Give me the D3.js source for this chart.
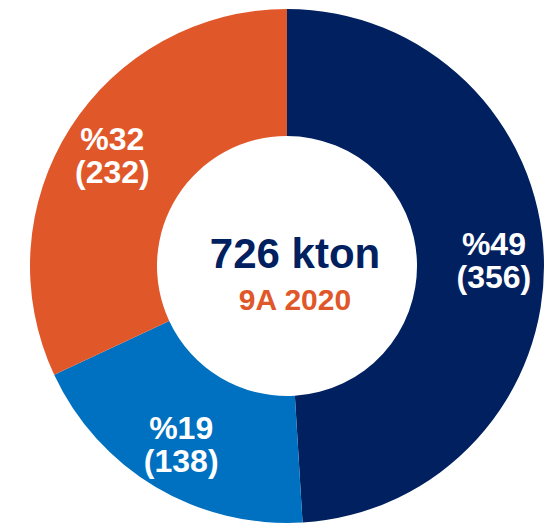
<!DOCTYPE html>
<html>
<head>
<meta charset="utf-8">
<script src="https://cdn.jsdelivr.net/npm/d3@7"></script>
<style>
  body { margin: 0; background: #fff; }
  svg text { font-family: 'Liberation Sans', Arial, sans-serif; font-weight: bold; }
</style>
</head>
<body>
<div id="chart"></div>
<script>
// Data
const categories = ['A', 'B', 'C'];
const values = [356, 138, 232];
const colors = ['#002060', '#0070C0', '#E0572A'];
const centerUnit = 'kton';
const centerSubtitle = '9A 2020';

// Layout
const width = 554;
const height = 529;
const cx = 287;
const cy = 266;
const outerR = 257;
const innerR = 130;
const labelR = 207;

const svg = d3
  .select('#chart')
  .append('svg')
  .attr('width', width)
  .attr('height', height);

const g = svg.append('g').attr('transform', `translate(${cx},${cy})`);

const total = d3.sum(values);
const data = categories.map((c, i) => ({ cat: c, value: values[i], color: colors[i] }));

const pie = d3.pie().sort(null).value(d => d.value);
const arc = d3.arc().innerRadius(innerR).outerRadius(outerR);
const labelArc = d3.arc().innerRadius(labelR).outerRadius(labelR);

const arcs = pie(data);

// Slices
g.selectAll('path.slice')
  .data(arcs)
  .enter()
  .append('path')
  .attr('class', 'slice')
  .attr('d', arc)
  .attr('fill', d => d.data.color);

// Slice labels
const labels = g.selectAll('g.label')
  .data(arcs)
  .enter()
  .append('g')
  .attr('class', 'label')
  .attr('transform', d => `translate(${labelArc.centroid(d)})`);

labels.append('text')
  .attr('text-anchor', 'middle')
  .attr('y', -5)
  .attr('font-size', '32px')
  .attr('fill', '#fff')
  .text(d => '%' + Math.round(d.data.value / total * 100));

labels.append('text')
  .attr('text-anchor', 'middle')
  .attr('y', 28)
  .attr('font-size', '32px')
  .attr('fill', '#fff')
  .text(d => '(' + d.data.value + ')');

// Center text
g.append('text')
  .attr('text-anchor', 'middle')
  .attr('x', 8)
  .attr('y', 2)
  .attr('font-size', '42px')
  .attr('fill', '#002060')
  .text(total + ' ' + centerUnit);

g.append('text')
  .attr('text-anchor', 'middle')
  .attr('x', 8)
  .attr('y', 44)
  .attr('font-size', '30px')
  .attr('fill', '#E0572A')
  .text(centerSubtitle);
</script>
</body>
</html>
